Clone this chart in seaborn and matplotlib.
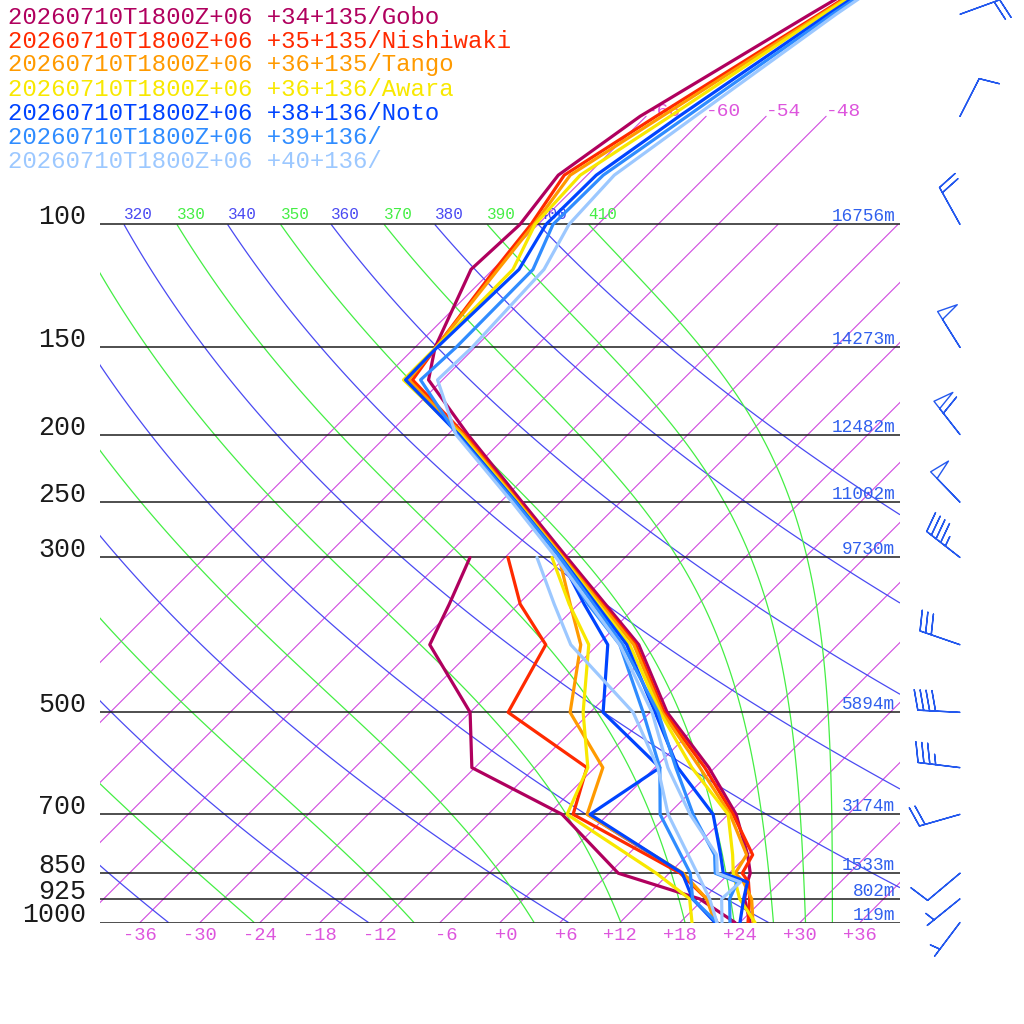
import numpy as np
import pandas as pd
import matplotlib
matplotlib.use("Agg")
import matplotlib.pyplot as plt
import matplotlib.transforms as mtransforms
import seaborn as sns

# skew-T geometry: x = T + SKEW*log10(1000/p)
SKEW = 69.8
P_TOP = 47.7

STATIONS = ["+34+135/Gobo", "+35+135/Nishiwaki", "+36+135/Tango", "+36+136/Awara",
            "+38+136/Noto", "+39+136/", "+40+136/"]
RUN = "20260710T1800Z+06"
COLORS = ["#b0005e", "#ff2a00", "#ff9a00", "#f8e800", "#0044ff", "#2f8cff", "#9cc8ff"]

LEVELS_T = [1000, 925, 875, 850, 800, 700, 600, 500, 400, 300, 250, 200, 167, 150, 116, 100, 85, 70, 50, 30]
LEVELS_TD = [1000, 925, 850, 700, 600, 500, 400, 350, 300]

GOBO_T = [25.0, 22.1, 20.7, 20.1, 18.0, 12.8, 5.4, -4.3, -13.9, -29.8, -39.8, -52.0, -61.4, -64.0, -68.2, -67.8, -68.9, -66.6, -59.8, -49.0]
NISHIWAKI_T = [24.8, 22.6, 20.8, 19.3, 18.5, 12.5, 5.0, -4.6, -14.2, -30.1, -40.1, -52.3, -63.0, -63.9, -65.8, -66.7, -68.3, -65.0, -58.9, -50.0]
TANGO_T = [25.3, 22.8, 20.3, 18.6, 17.9, 12.2, 4.5, -4.8, -14.4, -30.2, -40.2, -52.5, -63.4, -63.9, -65.5, -66.4, -67.7, -64.4, -58.7, -50.0]
AWARA_T = [25.5, 21.6, 19.5, 18.4, 16.5, 12.0, 3.7, -5.0, -14.8, -30.3, -40.3, -52.7, -63.9, -63.9, -64.0, -66.3, -66.7, -63.6, -58.5, -50.0]
NOTO_T = [24.0, 22.0, 20.7, 17.4, 15.3, 10.5, 2.3, -5.5, -15.1, -30.4, -40.4, -52.9, -63.7, -63.8, -63.4, -65.2, -65.1, -62.7, -58.0, -50.0]
P39_T = [23.0, 20.6, 19.7, 16.6, 14.7, 8.5, 2.1, -5.2, -15.5, -30.5, -40.5, -53.1, -62.2, -61.9, -62.0, -64.5, -64.4, -61.9, -57.6, -50.0]
P40_T = [22.2, 19.8, 20.0, 16.8, 14.9, 8.2, 1.3, -5.8, -15.8, -30.9, -40.8, -53.2, -60.5, -60.3, -60.9, -62.9, -63.3, -61.1, -57.2, -50.0]

GOBO_TD = [23.5, 17.6, 6.9, -4.6, -18.3, -24.0, -34.8, -36.9, -39.5]
NISHIWAKI_TD = [21.7, 18.3, 13.1, -3.5, -6.8, -20.2, -23.2, -29.8, -35.7]
TANGO_TD = [21.5, 18.3, 13.4, -2.1, -5.2, -14.0, -19.7, -24.8, -30.6]
AWARA_TD = [19.2, 16.6, 10.7, -4.1, -6.7, -12.7, -18.9, -24.9, -31.3]
NOTO_TD = [21.5, 16.9, 13.3, -1.8, 0.5, -10.7, -17.0, -23.4, -30.5]
P39_TD = [21.7, 16.9, 14.1, 5.2, 0.5, -6.7, -15.8, -23.0, -30.7]
P40_TD = [21.7, 18.6, 14.8, 6.0, 0.3, -7.7, -20.7, -26.4, -32.8]

TEMPS = [GOBO_T, NISHIWAKI_T, TANGO_T, AWARA_T, NOTO_T, P39_T, P40_T]
DEWS = [GOBO_TD, NISHIWAKI_TD, TANGO_TD, AWARA_TD, NOTO_TD, P39_TD, P40_TD]

P_LINES = [100, 150, 200, 250, 300, 500, 700, 850, 925, 1000]
HEIGHTS_M = [16756, 14273, 12482, 11002, 9730, 5894, 3174, 1533, 802, 119]

ISOTHERMS = list(range(-66, 37, 6))
TICK_T = list(range(-36, 37, 6))
DRY_THETA = [240, 260, 280, 300, 320, 340, 360, 380, 400]
MOIST_THETA = [250, 270, 290, 310, 330, 350, 370, 390, 410]

WIND_P = [1000, 925, 850, 700, 600, 500, 400, 300, 250, 200, 150, 100, 70, 50]
WIND_DIR = [217, 231, 230, 254, 277, 273, 289, 308, 316, 322, 328, 331, 27, 70]
WIND_KT = [5, 5, 10, 20, 35, 40, 30, 45, 50, 60, 50, 20, 10, 20]


def skew_x(t, p):
    return np.asarray(t) + SKEW * np.log10(1000.0 / np.asarray(p, dtype=float))


sns.set_theme(style="white")
plt.rcParams["font.family"] = ["Liberation Mono", "DejaVu Sans"]

fig = plt.figure(figsize=(10.24, 10.24), dpi=100)
fig.patch.set_facecolor("white")
ax_bot = (1024 - 922.5) / 1024
ax = fig.add_axes([100 / 1024, ax_bot, 800 / 1024, 922.5 / 1024])
ax.set_yscale("log")
ax.set_xlim(-40, 40)
ax.set_ylim(1000, P_TOP)
ax.axis("off")

# isotherms
ISO_COLOR = "#d04ae0"
for t in ISOTHERMS:
    ptop = 70 if t <= -48 else 100
    pp = np.array([1000.0, ptop])
    ax.plot(skew_x(t, pp), pp, color=ISO_COLOR, lw=0.8, zorder=1)

# dry and moist adiabats
xg = np.linspace(-60, 40, 501)
pg = np.logspace(2, 3, 300)
XG, PG = np.meshgrid(xg, pg)
TG = XG - SKEW * np.log10(1000.0 / PG)
TK = TG + 273.15
theta = TK * (1000.0 / PG) ** 0.2857
es = 6.112 * np.exp(17.67 * TG / (TG + 243.5))
rs = 0.622 * es / (PG - es)
theta_e = TK * (1000.0 / PG) ** (0.2854 * (1 - 0.28 * rs)) * np.exp(
    (3.376 / TK - 0.00254) * rs * 1000 * (1 + 0.81 * rs))

DRY_COLOR = "#4a4af2"
MOIST_COLOR = "#44ee44"
ax.contour(XG, PG, theta, levels=DRY_THETA, colors=DRY_COLOR, linewidths=0.9, zorder=1)
ax.contour(XG, PG, theta_e, levels=MOIST_THETA, colors=MOIST_COLOR, linewidths=0.9, zorder=1)

lab_tr = mtransforms.offset_copy(ax.transData, fig=fig, x=0, y=5, units="dots")
for levels, field, col in [(DRY_THETA, theta, DRY_COLOR), (MOIST_THETA, theta_e, MOIST_COLOR)]:
    row = field[0]
    for lv in levels:
        if lv < row.min() or lv > row.max():
            continue
        x0 = np.interp(lv, row, xg)
        if x0 < -43.5:  # label would lie wholly left of the frame
            continue
        ax.text(x0, 100, str(lv), color=col, fontsize=11.5, ha="left", va="baseline",
                transform=lab_tr, clip_on=True, zorder=2)

# isotherm labels at 70 hPa
for t in ISOTHERMS:
    if t <= -48:
        ax.text(skew_x(t, 70), 70, f"{t:d}", color="#dd55dd", fontsize=14,
                ha="left", va="baseline", zorder=2)

# pressure lines, labels and heights
ax.hlines(P_LINES, -40, 40, colors="#1e1e1e", lw=1.1, zorder=2)
for p, h in zip(P_LINES, HEIGHTS_M):
    ax.text(-41.4, p, str(p), color="#1a1a1a", fontsize=19.2, ha="right",
            va="baseline", clip_on=False)
    ax.text(39.5, p, f"{h}m", color="#3060ee", fontsize=12.8, ha="right",
            va="baseline", transform=mtransforms.offset_copy(ax.transData, fig=fig, x=0, y=3, units="dots"),
            zorder=2)

# bottom temperature labels
for t in TICK_T:
    ax.text(t + 1.7, 1000, f"{t:+d}", color="#dd55dd", fontsize=13.5, ha="right",
            va="center", transform=mtransforms.offset_copy(ax.transData, fig=fig, x=0, y=-13, units="dots"),
            clip_on=False)

# profiles
rows = []
for name, t_vals, td_vals in zip(STATIONS, TEMPS, DEWS):
    for p, t in zip(LEVELS_T, t_vals):
        rows.append({"station": name, "kind": "T", "p": p, "x": skew_x(t, p)})
    for p, t in zip(LEVELS_TD, td_vals):
        rows.append({"station": name, "kind": "Td", "p": p, "x": skew_x(t, p)})
prof = pd.DataFrame(rows)

for name, col in zip(STATIONS, COLORS):
    for kind in ["Td", "T"]:
        sub = prof[(prof.station == name) & (prof.kind == kind)]
        sns.lineplot(data=sub, x="x", y="p", sort=False, estimator=None, color=col,
                     lw=2.3, ax=ax, zorder=5, legend=False)
ax.set_yscale("log")
ax.set_xlim(-40, 40)
ax.set_ylim(1000, P_TOP)
ax.axis("off")

# legend text
for i, (name, col) in enumerate(zip(STATIONS, COLORS)):
    fig.text(8 / 1024, 1 - (17 + 24 * i) / 1024, f"{RUN} {name}", color=col,
             fontsize=17.3, ha="left", va="center")

# wind barbs
bx = fig.add_axes([900 / 1024, ax_bot, 124 / 1024, 922.5 / 1024])
bx.set_yscale("log")
bx.set_xlim(0, 124)
bx.set_ylim(1000, P_TOP)
bx.axis("off")
wd = np.deg2rad(np.array(WIND_DIR, dtype=float))
spd = np.array(WIND_KT, dtype=float)
u = -spd * np.sin(wd)
v = -spd * np.cos(wd)
bx.barbs(np.full(len(WIND_P), 60.0), WIND_P, u, v, length=7.8, barbcolor="#2358ee",
         flagcolor="none", linewidth=1.0, clip_on=False,
         sizes=dict(height=0.48, width=0.22, spacing=0.14))

fig.savefig("out.png", dpi=100, facecolor="white")
